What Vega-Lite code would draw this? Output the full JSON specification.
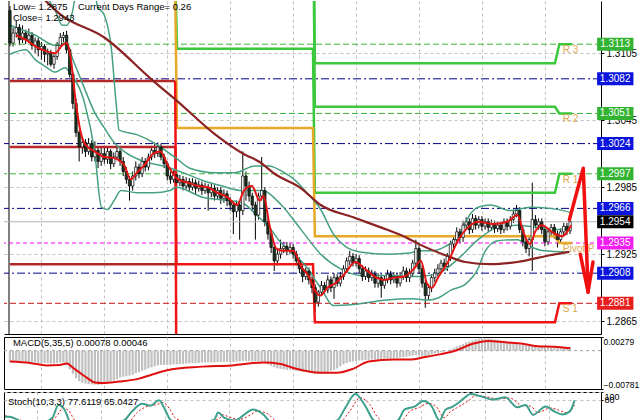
{
"$schema":"https://vega.github.io/schema/vega-lite/v6.json",
"padding":{"left":3,"top":0,"right":0,"bottom":0},
"background":"white",
"spacing":1,
"config":{"view":{"stroke":"#000","strokeWidth":1},"axis":{"labelFont":"Liberation Sans","labelFontSize":10,"labelColor":"#000","domainColor":"#000","tickColor":"#000","gridColor":"#c0c0c0","gridDash":[3,3]}},
"datasets":{
"one":[{"z":0}],
"cd":[
{"i":0,"o":1.3143,"h":1.3147,"l":1.3111,"c":1.3114,"m":-0.0024},
{"i":1,"o":1.3114,"h":1.3128,"l":1.3111,"c":1.3123,"m":-0.0024},
{"i":2,"o":1.3123,"h":1.3134,"l":1.3119,"c":1.3128,"m":-0.0023},
{"i":3,"o":1.3128,"h":1.3131,"l":1.3112,"c":1.3117,"m":-0.0023},
{"i":4,"o":1.3117,"h":1.3130,"l":1.3114,"c":1.3123,"m":-0.0023},
{"i":5,"o":1.3123,"h":1.3126,"l":1.3113,"c":1.3117,"m":-0.0024},
{"i":6,"o":1.3117,"h":1.3127,"l":1.3114,"c":1.3121,"m":-0.0024},
{"i":7,"o":1.3121,"h":1.3124,"l":1.3108,"c":1.3112,"m":-0.0024},
{"i":8,"o":1.3112,"h":1.3119,"l":1.3105,"c":1.3116,"m":-0.0024},
{"i":9,"o":1.3116,"h":1.3119,"l":1.3102,"c":1.3108,"m":-0.0025},
{"i":10,"o":1.3108,"h":1.3115,"l":1.3099,"c":1.3111,"m":-0.0025},
{"i":11,"o":1.3111,"h":1.3113,"l":1.3097,"c":1.3104,"m":-0.0025},
{"i":12,"o":1.3104,"h":1.3109,"l":1.3094,"c":1.3105,"m":-0.0025},
{"i":13,"o":1.3105,"h":1.3108,"l":1.3093,"c":1.3095,"m":-0.0026},
{"i":14,"o":1.3095,"h":1.3104,"l":1.3091,"c":1.3102,"m":-0.0026},
{"i":15,"o":1.3102,"h":1.3115,"l":1.3099,"c":1.3112,"m":-0.0025},
{"i":16,"o":1.3112,"h":1.3123,"l":1.3109,"c":1.3119,"m":-0.0024},
{"i":17,"o":1.3119,"h":1.3124,"l":1.3115,"c":1.3121,"m":-0.0024},
{"i":18,"o":1.3121,"h":1.3125,"l":1.3105,"c":1.3108,"m":-0.0030},
{"i":19,"o":1.3108,"h":1.3110,"l":1.3083,"c":1.3086,"m":-0.0038},
{"i":20,"o":1.3086,"h":1.3088,"l":1.3055,"c":1.3060,"m":-0.0047},
{"i":21,"o":1.3060,"h":1.3064,"l":1.3030,"c":1.3034,"m":-0.0056},
{"i":22,"o":1.3034,"h":1.3036,"l":1.3008,"c":1.3021,"m":-0.0062},
{"i":23,"o":1.3021,"h":1.3030,"l":1.3015,"c":1.3025,"m":-0.0065},
{"i":24,"o":1.3025,"h":1.3028,"l":1.3012,"c":1.3017,"m":-0.0067},
{"i":25,"o":1.3017,"h":1.3029,"l":1.3014,"c":1.3024,"m":-0.0068},
{"i":26,"o":1.3024,"h":1.3027,"l":1.3008,"c":1.3012,"m":-0.0069},
{"i":27,"o":1.3012,"h":1.3026,"l":1.3008,"c":1.3018,"m":-0.0069},
{"i":28,"o":1.3018,"h":1.3021,"l":1.3002,"c":1.3008,"m":-0.0070},
{"i":29,"o":1.3008,"h":1.3020,"l":1.3004,"c":1.3015,"m":-0.0069},
{"i":30,"o":1.3015,"h":1.3022,"l":1.3006,"c":1.3010,"m":-0.0068},
{"i":31,"o":1.3010,"h":1.3021,"l":1.3006,"c":1.3017,"m":-0.0066},
{"i":32,"o":1.3017,"h":1.3019,"l":1.3001,"c":1.3006,"m":-0.0064},
{"i":33,"o":1.3006,"h":1.3016,"l":1.3003,"c":1.3012,"m":-0.0061},
{"i":34,"o":1.3012,"h":1.3022,"l":1.3009,"c":1.3017,"m":-0.0058},
{"i":35,"o":1.3017,"h":1.3020,"l":1.3004,"c":1.3008,"m":-0.0055},
{"i":36,"o":1.3008,"h":1.3012,"l":1.2995,"c":1.2999,"m":-0.0053},
{"i":37,"o":1.2999,"h":1.3003,"l":1.2988,"c":1.2992,"m":-0.0052},
{"i":38,"o":1.2992,"h":1.2995,"l":1.2973,"c":1.2986,"m":-0.0051},
{"i":39,"o":1.2986,"h":1.2999,"l":1.2982,"c":1.2995,"m":-0.0049},
{"i":40,"o":1.2995,"h":1.3008,"l":1.2991,"c":1.3003,"m":-0.0046},
{"i":41,"o":1.3003,"h":1.3006,"l":1.2993,"c":1.2997,"m":-0.0044},
{"i":42,"o":1.2997,"h":1.3012,"l":1.2994,"c":1.3008,"m":-0.0041},
{"i":43,"o":1.3008,"h":1.3011,"l":1.2999,"c":1.3003,"m":-0.0039},
{"i":44,"o":1.3003,"h":1.3015,"l":1.3000,"c":1.3012,"m":-0.0036},
{"i":45,"o":1.3012,"h":1.3022,"l":1.3009,"c":1.3018,"m":-0.0034},
{"i":46,"o":1.3018,"h":1.3024,"l":1.3011,"c":1.3015,"m":-0.0032},
{"i":47,"o":1.3015,"h":1.3025,"l":1.3012,"c":1.3021,"m":-0.0030},
{"i":48,"o":1.3021,"h":1.3024,"l":1.3009,"c":1.3012,"m":-0.0029},
{"i":49,"o":1.3012,"h":1.3015,"l":1.3002,"c":1.3006,"m":-0.0029},
{"i":50,"o":1.3006,"h":1.3008,"l":1.2991,"c":1.2995,"m":-0.0029},
{"i":51,"o":1.2995,"h":1.2999,"l":1.2988,"c":1.2992,"m":-0.0029},
{"i":52,"o":1.2992,"h":1.3000,"l":1.2989,"c":1.2996,"m":-0.0028},
{"i":53,"o":1.2996,"h":1.2999,"l":1.2985,"c":1.2989,"m":-0.0028},
{"i":54,"o":1.2989,"h":1.2996,"l":1.2986,"c":1.2992,"m":-0.0027},
{"i":55,"o":1.2992,"h":1.2995,"l":1.2982,"c":1.2986,"m":-0.0027},
{"i":56,"o":1.2986,"h":1.2994,"l":1.2983,"c":1.2990,"m":-0.0026},
{"i":57,"o":1.2990,"h":1.2993,"l":1.2981,"c":1.2985,"m":-0.0026},
{"i":58,"o":1.2985,"h":1.2993,"l":1.2982,"c":1.2989,"m":-0.0025},
{"i":59,"o":1.2989,"h":1.2992,"l":1.2978,"c":1.2984,"m":-0.0025},
{"i":60,"o":1.2984,"h":1.2991,"l":1.2981,"c":1.2987,"m":-0.0025},
{"i":61,"o":1.2987,"h":1.2990,"l":1.2978,"c":1.2982,"m":-0.0024},
{"i":62,"o":1.2982,"h":1.2989,"l":1.2979,"c":1.2985,"m":-0.0024},
{"i":63,"o":1.2985,"h":1.2988,"l":1.2964,"c":1.2980,"m":-0.0024},
{"i":64,"o":1.2980,"h":1.2988,"l":1.2976,"c":1.2984,"m":-0.0024},
{"i":65,"o":1.2984,"h":1.2987,"l":1.2973,"c":1.2977,"m":-0.0024},
{"i":66,"o":1.2977,"h":1.2985,"l":1.2974,"c":1.2982,"m":-0.0023},
{"i":67,"o":1.2982,"h":1.2985,"l":1.2970,"c":1.2975,"m":-0.0023},
{"i":68,"o":1.2975,"h":1.2983,"l":1.2971,"c":1.2979,"m":-0.0023},
{"i":69,"o":1.2979,"h":1.2982,"l":1.2968,"c":1.2973,"m":-0.0023},
{"i":70,"o":1.2973,"h":1.2976,"l":1.2964,"c":1.2969,"m":-0.0023},
{"i":71,"o":1.2969,"h":1.2972,"l":1.2943,"c":1.2963,"m":-0.0023},
{"i":72,"o":1.2963,"h":1.2973,"l":1.2958,"c":1.2969,"m":-0.0022},
{"i":73,"o":1.2969,"h":1.2972,"l":1.2938,"c":1.2964,"m":-0.0022},
{"i":74,"o":1.2964,"h":1.3017,"l":1.2960,"c":1.2995,"m":-0.0021},
{"i":75,"o":1.2995,"h":1.2999,"l":1.2973,"c":1.2986,"m":-0.0021},
{"i":76,"o":1.2986,"h":1.2990,"l":1.2972,"c":1.2977,"m":-0.0021},
{"i":77,"o":1.2977,"h":1.2980,"l":1.2964,"c":1.2969,"m":-0.0022},
{"i":78,"o":1.2969,"h":1.2972,"l":1.2938,"c":1.2960,"m":-0.0022},
{"i":79,"o":1.2960,"h":1.2980,"l":1.2956,"c":1.2977,"m":-0.0022},
{"i":80,"o":1.2977,"h":1.3012,"l":1.2973,"c":1.2982,"m":-0.0023},
{"i":81,"o":1.2982,"h":1.2985,"l":1.2950,"c":1.2954,"m":-0.0025},
{"i":82,"o":1.2954,"h":1.2957,"l":1.2938,"c":1.2943,"m":-0.0028},
{"i":83,"o":1.2943,"h":1.2946,"l":1.2926,"c":1.2931,"m":-0.0031},
{"i":84,"o":1.2931,"h":1.2934,"l":1.2910,"c":1.2919,"m":-0.0034},
{"i":85,"o":1.2919,"h":1.2929,"l":1.2915,"c":1.2925,"m":-0.0036},
{"i":86,"o":1.2925,"h":1.2938,"l":1.2921,"c":1.2930,"m":-0.0037},
{"i":87,"o":1.2930,"h":1.2936,"l":1.2926,"c":1.2932,"m":-0.0038},
{"i":88,"o":1.2932,"h":1.2936,"l":1.2924,"c":1.2928,"m":-0.0039},
{"i":89,"o":1.2928,"h":1.2935,"l":1.2925,"c":1.2931,"m":-0.0039},
{"i":90,"o":1.2931,"h":1.2934,"l":1.2921,"c":1.2925,"m":-0.0040},
{"i":91,"o":1.2925,"h":1.2928,"l":1.2915,"c":1.2919,"m":-0.0041},
{"i":92,"o":1.2919,"h":1.2922,"l":1.2908,"c":1.2912,"m":-0.0042},
{"i":93,"o":1.2912,"h":1.2915,"l":1.2900,"c":1.2905,"m":-0.0043},
{"i":94,"o":1.2905,"h":1.2913,"l":1.2902,"c":1.2910,"m":-0.0043},
{"i":95,"o":1.2910,"h":1.2913,"l":1.2898,"c":1.2902,"m":-0.0044},
{"i":96,"o":1.2902,"h":1.2905,"l":1.2890,"c":1.2895,"m":-0.0045},
{"i":97,"o":1.2895,"h":1.2898,"l":1.2873,"c":1.2882,"m":-0.0047},
{"i":98,"o":1.2882,"h":1.2893,"l":1.2878,"c":1.2891,"m":-0.0047},
{"i":99,"o":1.2891,"h":1.2901,"l":1.2888,"c":1.2897,"m":-0.0046},
{"i":100,"o":1.2897,"h":1.2900,"l":1.2889,"c":1.2893,"m":-0.0045},
{"i":101,"o":1.2893,"h":1.2906,"l":1.2890,"c":1.2902,"m":-0.0043},
{"i":102,"o":1.2902,"h":1.2905,"l":1.2891,"c":1.2895,"m":-0.0041},
{"i":103,"o":1.2895,"h":1.2908,"l":1.2885,"c":1.2904,"m":-0.0039},
{"i":104,"o":1.2904,"h":1.2907,"l":1.2896,"c":1.2899,"m":-0.0036},
{"i":105,"o":1.2899,"h":1.2909,"l":1.2896,"c":1.2905,"m":-0.0032},
{"i":106,"o":1.2905,"h":1.2915,"l":1.2902,"c":1.2912,"m":-0.0028},
{"i":107,"o":1.2912,"h":1.2922,"l":1.2909,"c":1.2919,"m":-0.0025},
{"i":108,"o":1.2919,"h":1.2928,"l":1.2915,"c":1.2923,"m":-0.0023},
{"i":109,"o":1.2923,"h":1.2926,"l":1.2914,"c":1.2917,"m":-0.0022},
{"i":110,"o":1.2917,"h":1.2925,"l":1.2914,"c":1.2921,"m":-0.0021},
{"i":111,"o":1.2921,"h":1.2924,"l":1.2908,"c":1.2912,"m":-0.0020},
{"i":112,"o":1.2912,"h":1.2915,"l":1.2901,"c":1.2905,"m":-0.0020},
{"i":113,"o":1.2905,"h":1.2914,"l":1.2902,"c":1.2910,"m":-0.0019},
{"i":114,"o":1.2910,"h":1.2913,"l":1.2900,"c":1.2904,"m":-0.0019},
{"i":115,"o":1.2904,"h":1.2911,"l":1.2901,"c":1.2907,"m":-0.0018},
{"i":116,"o":1.2907,"h":1.2910,"l":1.2895,"c":1.2899,"m":-0.0018},
{"i":117,"o":1.2899,"h":1.2908,"l":1.2895,"c":1.2904,"m":-0.0017},
{"i":118,"o":1.2904,"h":1.2907,"l":1.2886,"c":1.2897,"m":-0.0017},
{"i":119,"o":1.2897,"h":1.2906,"l":1.2894,"c":1.2902,"m":-0.0016},
{"i":120,"o":1.2902,"h":1.2911,"l":1.2899,"c":1.2907,"m":-0.0016},
{"i":121,"o":1.2907,"h":1.2910,"l":1.2898,"c":1.2902,"m":-0.0016},
{"i":122,"o":1.2902,"h":1.2909,"l":1.2899,"c":1.2905,"m":-0.0015},
{"i":123,"o":1.2905,"h":1.2908,"l":1.2895,"c":1.2899,"m":-0.0015},
{"i":124,"o":1.2899,"h":1.2909,"l":1.2896,"c":1.2905,"m":-0.0014},
{"i":125,"o":1.2905,"h":1.2914,"l":1.2902,"c":1.2910,"m":-0.0013},
{"i":126,"o":1.2910,"h":1.2913,"l":1.2900,"c":1.2904,"m":-0.0012},
{"i":127,"o":1.2904,"h":1.2912,"l":1.2900,"c":1.2908,"m":-0.0011},
{"i":128,"o":1.2908,"h":1.2920,"l":1.2905,"c":1.2917,"m":-0.0010},
{"i":129,"o":1.2917,"h":1.2938,"l":1.2913,"c":1.2930,"m":-0.0009},
{"i":130,"o":1.2930,"h":1.2933,"l":1.2908,"c":1.2912,"m":-0.0010},
{"i":131,"o":1.2912,"h":1.2915,"l":1.2895,"c":1.2899,"m":-0.0011},
{"i":132,"o":1.2899,"h":1.2902,"l":1.2877,"c":1.2888,"m":-0.0011},
{"i":133,"o":1.2888,"h":1.2898,"l":1.2884,"c":1.2895,"m":-0.0010},
{"i":134,"o":1.2895,"h":1.2907,"l":1.2891,"c":1.2904,"m":-0.0008},
{"i":135,"o":1.2904,"h":1.2912,"l":1.2900,"c":1.2908,"m":-0.0006},
{"i":136,"o":1.2908,"h":1.2916,"l":1.2905,"c":1.2912,"m":-0.0005},
{"i":137,"o":1.2912,"h":1.2920,"l":1.2908,"c":1.2917,"m":-0.0003},
{"i":138,"o":1.2917,"h":1.2921,"l":1.2910,"c":1.2914,"m":-0.0002},
{"i":139,"o":1.2914,"h":1.2926,"l":1.2910,"c":1.2923,"m":0.0000},
{"i":140,"o":1.2923,"h":1.2937,"l":1.2919,"c":1.2934,"m":0.0003},
{"i":141,"o":1.2934,"h":1.2942,"l":1.2930,"c":1.2938,"m":0.0006},
{"i":142,"o":1.2938,"h":1.2949,"l":1.2934,"c":1.2945,"m":0.0009},
{"i":143,"o":1.2945,"h":1.2948,"l":1.2935,"c":1.2940,"m":0.0011},
{"i":144,"o":1.2940,"h":1.2955,"l":1.2936,"c":1.2951,"m":0.0014},
{"i":145,"o":1.2951,"h":1.2958,"l":1.2947,"c":1.2954,"m":0.0017},
{"i":146,"o":1.2954,"h":1.2957,"l":1.2943,"c":1.2947,"m":0.0019},
{"i":147,"o":1.2947,"h":1.2961,"l":1.2944,"c":1.2957,"m":0.0021},
{"i":148,"o":1.2957,"h":1.2960,"l":1.2947,"c":1.2951,"m":0.0023},
{"i":149,"o":1.2951,"h":1.2959,"l":1.2948,"c":1.2956,"m":0.0024},
{"i":150,"o":1.2956,"h":1.2959,"l":1.2946,"c":1.2950,"m":0.0025},
{"i":151,"o":1.2950,"h":1.2957,"l":1.2947,"c":1.2954,"m":0.0025},
{"i":152,"o":1.2954,"h":1.2957,"l":1.2945,"c":1.2949,"m":0.0025},
{"i":153,"o":1.2949,"h":1.2956,"l":1.2946,"c":1.2952,"m":0.0024},
{"i":154,"o":1.2952,"h":1.2955,"l":1.2944,"c":1.2948,"m":0.0023},
{"i":155,"o":1.2948,"h":1.2954,"l":1.2945,"c":1.2951,"m":0.0022},
{"i":156,"o":1.2951,"h":1.2954,"l":1.2943,"c":1.2947,"m":0.0021},
{"i":157,"o":1.2947,"h":1.2957,"l":1.2944,"c":1.2954,"m":0.0019},
{"i":158,"o":1.2954,"h":1.2957,"l":1.2946,"c":1.2950,"m":0.0018},
{"i":159,"o":1.2950,"h":1.2959,"l":1.2947,"c":1.2956,"m":0.0017},
{"i":160,"o":1.2956,"h":1.2965,"l":1.2953,"c":1.2961,"m":0.0016},
{"i":161,"o":1.2961,"h":1.2969,"l":1.2958,"c":1.2964,"m":0.0015},
{"i":162,"o":1.2964,"h":1.2967,"l":1.2944,"c":1.2947,"m":0.0013},
{"i":163,"o":1.2947,"h":1.2950,"l":1.2932,"c":1.2936,"m":0.0012},
{"i":164,"o":1.2936,"h":1.2939,"l":1.2926,"c":1.2930,"m":0.0011},
{"i":165,"o":1.2930,"h":1.2942,"l":1.2923,"c":1.2938,"m":0.0010},
{"i":166,"o":1.2938,"h":1.2989,"l":1.2910,"c":1.2956,"m":0.0010},
{"i":167,"o":1.2956,"h":1.2960,"l":1.2948,"c":1.2951,"m":0.0009},
{"i":168,"o":1.2951,"h":1.2957,"l":1.2947,"c":1.2954,"m":0.0008},
{"i":169,"o":1.2954,"h":1.2957,"l":1.2943,"c":1.2947,"m":0.0008},
{"i":170,"o":1.2947,"h":1.2950,"l":1.2932,"c":1.2936,"m":0.0007},
{"i":171,"o":1.2936,"h":1.2948,"l":1.2933,"c":1.2945,"m":0.0007},
{"i":172,"o":1.2945,"h":1.2952,"l":1.2942,"c":1.2949,"m":0.0007},
{"i":173,"o":1.2949,"h":1.2952,"l":1.2939,"c":1.2943,"m":0.0007},
{"i":174,"o":1.2943,"h":1.2946,"l":1.2931,"c":1.2938,"m":0.0006},
{"i":175,"o":1.2938,"h":1.2948,"l":1.2935,"c":1.2945,"m":0.0006},
{"i":176,"o":1.2945,"h":1.2953,"l":1.2941,"c":1.2950,"m":0.0007},
{"i":177,"o":1.2950,"h":1.2953,"l":1.2942,"c":1.2946,"m":0.0007},
{"i":178,"o":1.2946,"h":1.2959,"l":1.2943,"c":1.2954,"m":0.0008}
],
"ln":[
{"s":"U","i":0,"p":1.3173},{"s":"U","i":11.25,"p":1.3156},{"s":"U","i":14.4,"p":1.3143},{"s":"U","i":16.6,"p":1.3130},{"s":"U","i":18.1,"p":1.3130},{"s":"U","i":19.7,"p":1.3140},{"s":"U","i":21.25,"p":1.3160},{"s":"U","i":26.9,"p":1.3160},{"s":"U","i":27.8,"p":1.3147},{"s":"U","i":30,"p":1.3139},{"s":"U","i":32.2,"p":1.3110},{"s":"U","i":33.75,"p":1.3060},{"s":"U","i":34.7,"p":1.3036},{"s":"U","i":40.3,"p":1.3032},{"s":"U","i":45.6,"p":1.3025},{"s":"U","i":52.8,"p":1.3011},{"s":"U","i":57.2,"p":1.3002},{"s":"U","i":65.3,"p":1.2998},{"s":"U","i":71.6,"p":1.2998},{"s":"U","i":77.8,"p":1.3004},{"s":"U","i":82.2,"p":1.3004},{"s":"U","i":87.2,"p":1.2998},{"s":"U","i":90.3,"p":1.2992},{"s":"U","i":94.7,"p":1.2979},{"s":"U","i":98.75,"p":1.2965},{"s":"U","i":102.8,"p":1.2943},{"s":"U","i":106.6,"p":1.2932},{"s":"U","i":111.25,"p":1.2927},{"s":"U","i":120.6,"p":1.2925},{"s":"U","i":126.9,"p":1.2926},{"s":"U","i":130,"p":1.2928},{"s":"U","i":134,"p":1.2928},{"s":"U","i":138.4,"p":1.2932},{"s":"U","i":142.5,"p":1.2941},{"s":"U","i":146.6,"p":1.2962},{"s":"U","i":148.75,"p":1.2967},{"s":"U","i":152.8,"p":1.2969},{"s":"U","i":159,"p":1.2964},{"s":"U","i":165.3,"p":1.2967},{"s":"U","i":171.6,"p":1.2966},{"s":"U","i":175.9,"p":1.2964},{"s":"U","i":178.4,"p":1.2962},
{"s":"M","i":0,"p":1.3130},{"s":"M","i":8.1,"p":1.3121},{"s":"M","i":14.4,"p":1.3112},{"s":"M","i":17.5,"p":1.3114},{"s":"M","i":20.6,"p":1.3095},{"s":"M","i":23.75,"p":1.3073},{"s":"M","i":26.9,"p":1.3052},{"s":"M","i":30,"p":1.3038},{"s":"M","i":33.1,"p":1.3025},{"s":"M","i":36.25,"p":1.3017},{"s":"M","i":42.5,"p":1.3008},{"s":"M","i":48.75,"p":1.3004},{"s":"M","i":55,"p":1.2998},{"s":"M","i":61.25,"p":1.2991},{"s":"M","i":67.5,"p":1.2986},{"s":"M","i":73.75,"p":1.2982},{"s":"M","i":80,"p":1.2982},{"s":"M","i":86.25,"p":1.2969},{"s":"M","i":92.5,"p":1.2947},{"s":"M","i":98.75,"p":1.2925},{"s":"M","i":105,"p":1.2912},{"s":"M","i":111.25,"p":1.2906},{"s":"M","i":120.6,"p":1.2906},{"s":"M","i":130,"p":1.2905},{"s":"M","i":136.25,"p":1.2908},{"s":"M","i":142.5,"p":1.2921},{"s":"M","i":148.75,"p":1.2938},{"s":"M","i":155,"p":1.2949},{"s":"M","i":161.25,"p":1.2951},{"s":"M","i":167.5,"p":1.2949},{"s":"M","i":173.75,"p":1.2947},{"s":"M","i":178.4,"p":1.2947},
{"s":"L","i":0,"p":1.3104},{"s":"L","i":5,"p":1.3108},{"s":"L","i":8.1,"p":1.3099},{"s":"L","i":11.25,"p":1.3093},{"s":"L","i":14.4,"p":1.3088},{"s":"L","i":17.5,"p":1.3092},{"s":"L","i":19.4,"p":1.3086},{"s":"L","i":23.75,"p":1.3060},{"s":"L","i":26.9,"p":1.3017},{"s":"L","i":29.1,"p":1.2967},{"s":"L","i":30.9,"p":1.2965},{"s":"L","i":33.1,"p":1.2973},{"s":"L","i":35.3,"p":1.2982},{"s":"L","i":40.3,"p":1.2980},{"s":"L","i":45.6,"p":1.2980},{"s":"L","i":50.9,"p":1.2982},{"s":"L","i":52.8,"p":1.2985},{"s":"L","i":61.25,"p":1.2976},{"s":"L","i":69.7,"p":1.2973},{"s":"L","i":73.75,"p":1.2971},{"s":"L","i":79.1,"p":1.2958},{"s":"L","i":82.2,"p":1.2950},{"s":"L","i":85.3,"p":1.2938},{"s":"L","i":89.4,"p":1.2927},{"s":"L","i":94.7,"p":1.2912},{"s":"L","i":97.2,"p":1.2901},{"s":"L","i":98.75,"p":1.2895},{"s":"L","i":102.8,"p":1.2879},{"s":"L","i":109.1,"p":1.2880},{"s":"L","i":119.7,"p":1.2884},{"s":"L","i":127.8,"p":1.2885},{"s":"L","i":133.1,"p":1.2884},{"s":"L","i":136.25,"p":1.2886},{"s":"L","i":140.3,"p":1.2893},{"s":"L","i":144.7,"p":1.2898},{"s":"L","i":148.75,"p":1.2912},{"s":"L","i":150.9,"p":1.2927},{"s":"L","i":155,"p":1.2937},{"s":"L","i":161.25,"p":1.2938},{"s":"L","i":165.3,"p":1.2932},{"s":"L","i":169.7,"p":1.2928},{"s":"L","i":177.8,"p":1.2927},
{"s":"F","i":1.9,"p":1.3121},{"s":"F","i":5,"p":1.3117},{"s":"F","i":8.1,"p":1.3111},{"s":"F","i":11.25,"p":1.3107},{"s":"F","i":14.4,"p":1.3105},{"s":"F","i":16.6,"p":1.3112},{"s":"F","i":18.1,"p":1.3114},{"s":"F","i":19.4,"p":1.3099},{"s":"F","i":20.6,"p":1.3069},{"s":"F","i":22.2,"p":1.3038},{"s":"F","i":23.75,"p":1.3024},{"s":"F","i":26.9,"p":1.3017},{"s":"F","i":30,"p":1.3012},{"s":"F","i":33.1,"p":1.3011},{"s":"F","i":36.25,"p":1.3005},{"s":"F","i":38.4,"p":1.2992},{"s":"F","i":40.3,"p":1.2998},{"s":"F","i":42.5,"p":1.3004},{"s":"F","i":45.6,"p":1.3015},{"s":"F","i":47.8,"p":1.3017},{"s":"F","i":50.3,"p":1.3004},{"s":"F","i":53.4,"p":1.2992},{"s":"F","i":56.6,"p":1.2989},{"s":"F","i":59.7,"p":1.2986},{"s":"F","i":62.8,"p":1.2985},{"s":"F","i":65.9,"p":1.2980},{"s":"F","i":69.1,"p":1.2976},{"s":"F","i":72.2,"p":1.2969},{"s":"F","i":74.4,"p":1.2982},{"s":"F","i":76.9,"p":1.2986},{"s":"F","i":79.4,"p":1.2973},{"s":"F","i":80.6,"p":1.2977},{"s":"F","i":82.5,"p":1.2951},{"s":"F","i":84.7,"p":1.2930},{"s":"F","i":86.9,"p":1.2928},{"s":"F","i":90,"p":1.2928},{"s":"F","i":92.5,"p":1.2914},{"s":"F","i":95,"p":1.2905},{"s":"F","i":97.2,"p":1.2891},{"s":"F","i":98.75,"p":1.2888},{"s":"F","i":100.9,"p":1.2895},{"s":"F","i":103.4,"p":1.2899},{"s":"F","i":106.6,"p":1.2908},{"s":"F","i":109.7,"p":1.2918},{"s":"F","i":112.8,"p":1.2912},{"s":"F","i":115.9,"p":1.2905},{"s":"F","i":119.1,"p":1.2902},{"s":"F","i":122.2,"p":1.2904},{"s":"F","i":125.3,"p":1.2905},{"s":"F","i":128.4,"p":1.2912},{"s":"F","i":130.6,"p":1.2919},{"s":"F","i":132.5,"p":1.2899},{"s":"F","i":134.1,"p":1.2895},{"s":"F","i":136.25,"p":1.2905},{"s":"F","i":139.4,"p":1.2919},{"s":"F","i":142.5,"p":1.2938},{"s":"F","i":145.6,"p":1.2949},{"s":"F","i":148.75,"p":1.2954},{"s":"F","i":153.4,"p":1.2952},{"s":"F","i":158.1,"p":1.2954},{"s":"F","i":161.25,"p":1.2960},{"s":"F","i":163.4,"p":1.2943},{"s":"F","i":165.3,"p":1.2934},{"s":"F","i":166.9,"p":1.2945},{"s":"F","i":169.1,"p":1.2951},{"s":"F","i":172.2,"p":1.2945},{"s":"F","i":175.3,"p":1.2941},{"s":"F","i":178.4,"p":1.2951},
{"s":"B","i":11.25,"p":1.3152},{"s":"B","i":15.9,"p":1.3140},{"s":"B","i":30,"p":1.3119},{"s":"B","i":45.6,"p":1.3080},{"s":"B","i":52.8,"p":1.3063},{"s":"B","i":65.3,"p":1.3032},{"s":"B","i":74.7,"p":1.3014},{"s":"B","i":79.1,"p":1.3008},{"s":"B","i":84.1,"p":1.2997},{"s":"B","i":92.5,"p":1.2984},{"s":"B","i":98.75,"p":1.2969},{"s":"B","i":109.1,"p":1.2958},{"s":"B","i":119.7,"p":1.2947},{"s":"B","i":125.9,"p":1.2940},{"s":"B","i":130,"p":1.2934},{"s":"B","i":138.4,"p":1.2924},{"s":"B","i":144.7,"p":1.2918},{"s":"B","i":152.8,"p":1.2916},{"s":"B","i":161.25,"p":1.2918},{"s":"B","i":171.6,"p":1.2924},{"s":"B","i":177.8,"p":1.2927},
{"s":"R1","i":52.3,"p":1.3200},{"s":"R1","i":53.1,"p":1.3109},{"s":"R1","i":96.3,"p":1.3109},{"s":"R1","i":96.9,"p":1.2980},{"s":"R1","i":173.2,"p":1.2980},{"s":"R1","i":174.6,"p":1.2997},{"s":"R1","i":178.6,"p":1.2997},
{"s":"R2","i":96.3,"p":1.3250},{"s":"R2","i":96.9,"p":1.3057},{"s":"R2","i":173.2,"p":1.3057},{"s":"R2","i":174.6,"p":1.3051},{"s":"R2","i":178.6,"p":1.3051},
{"s":"R3","i":96.3,"p":1.3300},{"s":"R3","i":96.9,"p":1.3096},{"s":"R3","i":173.2,"p":1.3096},{"s":"R3","i":174.6,"p":1.3113},{"s":"R3","i":178.6,"p":1.3113},
{"s":"P","i":52.3,"p":1.3200},{"s":"P","i":53.1,"p":1.3038},{"s":"P","i":96.3,"p":1.3038},{"s":"P","i":96.9,"p":1.2941},{"s":"P","i":173.2,"p":1.2941},{"s":"P","i":174.6,"p":1.2935},{"s":"P","i":178.6,"p":1.2935},
{"s":"S1","i":52.5,"p":1.3080},{"s":"S1","i":52.9,"p":1.2916},{"s":"S1","i":96.3,"p":1.2916},{"s":"S1","i":96.9,"p":1.2864},{"s":"S1","i":173.2,"p":1.2864},{"s":"S1","i":174.6,"p":1.2881},{"s":"S1","i":178.6,"p":1.2881},
{"s":"S2","i":52.6,"p":1.3021},{"s":"S2","i":52.9,"p":1.2800},
{"s":"D1","i":0,"p":1.3080},{"s":"D1","i":52.5,"p":1.3080},
{"s":"D2","i":0,"p":1.3021},{"s":"D2","i":52.6,"p":1.3021},
{"s":"D3","i":0,"p":1.2916},{"s":"D3","i":52.9,"p":1.2916},
{"s":"A1","i":177.8,"p":1.2956},{"s":"A1","i":182.2,"p":1.3002},{"s":"A1","i":183.75,"p":1.2892},
{"s":"A2","i":181.25,"p":1.2925},{"s":"A2","i":183.75,"p":1.2891},
{"s":"A3","i":183.7,"p":1.2891},{"s":"A3","i":185.3,"p":1.2918}
],
"lv":[{"k":"g","p":1.3113},{"k":"b","p":1.3082},{"k":"g","p":1.3051},{"k":"b","p":1.3024},{"k":"g","p":1.2997},{"k":"b","p":1.2966},{"k":"k","p":1.2954},{"k":"m","p":1.2935},{"k":"b","p":1.2908},{"k":"r","p":1.2881}],
"lb":[{"t":"R 3","p":1.3113},{"t":"R 2","p":1.3051},{"t":"R 1","p":1.2997},{"t":"Pivot P","p":1.2935},{"t":"S 1","p":1.2881}],
"sg":[{"i":0,"v":-0.0022},{"i":6.4,"v":-0.0025},{"i":11.6,"v":-0.0030},{"i":15.8,"v":-0.0029},{"i":18,"v":-0.0026},{"i":20.5,"v":-0.0037},{"i":24.4,"v":-0.0055},{"i":27,"v":-0.0065},{"i":29.4,"v":-0.0066},{"i":34.6,"v":-0.0063},{"i":41,"v":-0.0057},{"i":45,"v":-0.0049},{"i":50,"v":-0.0040},{"i":60,"v":-0.0033},{"i":70.5,"v":-0.0030},{"i":80.7,"v":-0.0024},{"i":86,"v":-0.0027},{"i":91,"v":-0.0037},{"i":98.6,"v":-0.0045},{"i":104,"v":-0.0045},{"i":109,"v":-0.0037},{"i":114,"v":-0.0022},{"i":122,"v":-0.0018},{"i":127,"v":-0.0018},{"i":132,"v":-0.0013},{"i":137,"v":-0.0007},{"i":142,"v":0.0001},{"i":147,"v":0.0014},{"i":152,"v":0.0020},{"i":157.5,"v":0.0017},{"i":163,"v":0.0014},{"i":168,"v":0.0009},{"i":173,"v":0.0008},{"i":178,"v":0.0005}],
"st":[
{"s":"K","i":0,"v":35},{"s":"K","i":1.3,"v":35},{"s":"K","i":6.4,"v":20},{"s":"K","i":11.6,"v":20},{"s":"K","i":14.8,"v":32},{"s":"K","i":16.7,"v":66},{"s":"K","i":18.6,"v":54},{"s":"K","i":20.5,"v":20},{"s":"K","i":30,"v":10},{"s":"K","i":37.2,"v":25},{"s":"K","i":39.7,"v":49},{"s":"K","i":42.9,"v":69},{"s":"K","i":45.5,"v":64},{"s":"K","i":48.1,"v":78},{"s":"K","i":50,"v":54},{"s":"K","i":51.9,"v":25},{"s":"K","i":58,"v":15},{"s":"K","i":65.4,"v":27},{"s":"K","i":66.6,"v":46},{"s":"K","i":68.6,"v":32},{"s":"K","i":72,"v":25},{"s":"K","i":75.6,"v":46},{"s":"K","i":77.5,"v":54},{"s":"K","i":80.7,"v":41},{"s":"K","i":83.3,"v":20},{"s":"K","i":95,"v":10},{"s":"K","i":103.8,"v":25},{"s":"K","i":106.3,"v":58},{"s":"K","i":109.5,"v":95},{"s":"K","i":112.7,"v":62},{"s":"K","i":115.3,"v":25},{"s":"K","i":120,"v":15},{"s":"K","i":123,"v":27},{"s":"K","i":124.9,"v":54},{"s":"K","i":128.1,"v":62},{"s":"K","i":130.7,"v":76},{"s":"K","i":133.2,"v":64},{"s":"K","i":135.8,"v":25},{"s":"K","i":137.7,"v":54},{"s":"K","i":139.6,"v":60},{"s":"K","i":143.5,"v":84},{"s":"K","i":145.4,"v":95},{"s":"K","i":148.6,"v":89},{"s":"K","i":152.4,"v":80},{"s":"K","i":156.3,"v":86},{"s":"K","i":160.1,"v":60},{"s":"K","i":162.7,"v":66},{"s":"K","i":165,"v":40},{"s":"K","i":169,"v":62},{"s":"K","i":171.6,"v":49},{"s":"K","i":174.2,"v":41},{"s":"K","i":176.5,"v":49},{"s":"K","i":178,"v":78},
{"s":"D","i":0,"v":38},{"s":"D","i":3,"v":30},{"s":"D","i":8,"v":22},{"s":"D","i":13,"v":22},{"s":"D","i":16,"v":35},{"s":"D","i":18.2,"v":58},{"s":"D","i":20,"v":50},{"s":"D","i":22,"v":25},{"s":"D","i":31,"v":12},{"s":"D","i":39,"v":24},{"s":"D","i":41.2,"v":45},{"s":"D","i":44.4,"v":62},{"s":"D","i":47,"v":66},{"s":"D","i":49.6,"v":72},{"s":"D","i":51.5,"v":55},{"s":"D","i":53.4,"v":30},{"s":"D","i":60,"v":16},{"s":"D","i":67,"v":30},{"s":"D","i":68.1,"v":40},{"s":"D","i":70.1,"v":34},{"s":"D","i":73.5,"v":28},{"s":"D","i":77.1,"v":42},{"s":"D","i":79,"v":50},{"s":"D","i":82.2,"v":42},{"s":"D","i":84.8,"v":24},{"s":"D","i":96,"v":12},{"s":"D","i":105,"v":24},{"s":"D","i":107.8,"v":50},{"s":"D","i":111,"v":85},{"s":"D","i":114.2,"v":65},{"s":"D","i":116.8,"v":30},{"s":"D","i":121,"v":16},{"s":"D","i":124.5,"v":28},{"s":"D","i":126.4,"v":48},{"s":"D","i":129.6,"v":60},{"s":"D","i":132.2,"v":70},{"s":"D","i":134.7,"v":62},{"s":"D","i":137.3,"v":32},{"s":"D","i":139.2,"v":48},{"s":"D","i":141.1,"v":58},{"s":"D","i":145,"v":78},{"s":"D","i":146.9,"v":90},{"s":"D","i":150.1,"v":88},{"s":"D","i":153.9,"v":82},{"s":"D","i":157.8,"v":84},{"s":"D","i":161.6,"v":64},{"s":"D","i":164.2,"v":63},{"s":"D","i":166.5,"v":46},{"s":"D","i":170.5,"v":58},{"s":"D","i":173.1,"v":52},{"s":"D","i":175.7,"v":45},{"s":"D","i":178,"v":65}
]
},
"vconcat":[
{
"width":597,"height":333,
"view":{"stroke":null},
"layer":[
{"data":{"name":"cd"},"mark":{"type":"rule","color":"#000","strokeWidth":1},
 "encoding":{"x":{"field":"i","type":"quantitative","scale":{"domain":[-0.3,186.25],"nice":false,"zero":false},"axis":{"values":[10,20,30,40,50,60,70,80,90,100,110,120,130,140,150,160,170,180],"grid":true,"labels":false,"ticks":false,"domain":true,"title":null}},
  "y":{"field":"l","type":"quantitative","scale":{"domain":[1.2858,1.31472],"nice":false,"zero":false},"axis":{"orient":"right","values":[1.3135,1.3105,1.3075,1.3045,1.3015,1.2985,1.2955,1.2925,1.2895,1.2865],"format":".4f","grid":true,"tickSize":3,"labelPadding":2,"domain":true,"title":null,"labelOverlap":false}},
  "y2":{"field":"h"}}},
{"data":{"name":"one"},"mark":{"type":"rule","color":"#000","strokeWidth":1},"encoding":{"x":{"datum":-0.3}}},
{"data":{"name":"lv"},"transform":[{"filter":{"field":"k","equal":"g"}}],"mark":{"type":"rule","strokeWidth":1,"color":"#3cb43c","strokeDash":[6,3]},
 "encoding":{"y":{"field":"p","type":"quantitative"}}},
{"data":{"name":"lv"},"transform":[{"filter":{"field":"k","equal":"b"}}],"mark":{"type":"rule","strokeWidth":1,"color":"#000080","strokeDash":[8,3,2,3]},
 "encoding":{"y":{"field":"p","type":"quantitative"}}},
{"data":{"name":"lv"},"transform":[{"filter":{"field":"k","equal":"m"}}],"mark":{"type":"rule","strokeWidth":1,"color":"#ff00ff","strokeDash":[4,3]},
 "encoding":{"y":{"field":"p","type":"quantitative"}}},
{"data":{"name":"lv"},"transform":[{"filter":{"field":"k","equal":"r"}}],"mark":{"type":"rule","strokeWidth":1,"color":"#c81414","strokeDash":[6,3]},
 "encoding":{"y":{"field":"p","type":"quantitative"}}},
{"data":{"name":"lv"},"transform":[{"filter":{"field":"k","equal":"k"}}],"mark":{"type":"rule","strokeWidth":1,"color":"#b4b4b4"},
 "encoding":{"y":{"field":"p","type":"quantitative"}}},
{"data":{"name":"ln"},"transform":[{"filter":{"field":"s","oneOf":["R1","R2","R3"]}}],"mark":{"type":"line","color":"#3cc83c","strokeWidth":2.5,"clip":true},
 "encoding":{"x":{"field":"i","type":"quantitative"},"y":{"field":"p","type":"quantitative"},"detail":{"field":"s","type":"nominal"}}},
{"data":{"name":"ln"},"transform":[{"filter":{"field":"s","oneOf":["P"]}}],"mark":{"type":"line","color":"#e6aa28","strokeWidth":2.5,"clip":true},
 "encoding":{"x":{"field":"i","type":"quantitative"},"y":{"field":"p","type":"quantitative"}}},
{"data":{"name":"ln"},"transform":[{"filter":{"field":"s","oneOf":["D1","D2","D3"]}}],"mark":{"type":"line","color":"#b42828","strokeWidth":2.5,"clip":true},
 "encoding":{"x":{"field":"i","type":"quantitative"},"y":{"field":"p","type":"quantitative"},"detail":{"field":"s","type":"nominal"}}},
{"data":{"name":"ln"},"transform":[{"filter":{"field":"s","oneOf":["S1","S2"]}}],"mark":{"type":"line","color":"#f01414","strokeWidth":2.5,"clip":true},
 "encoding":{"x":{"field":"i","type":"quantitative"},"y":{"field":"p","type":"quantitative"},"detail":{"field":"s","type":"nominal"}}},
{"data":{"name":"ln"},"transform":[{"filter":{"field":"s","oneOf":["U","M","L"]}}],"mark":{"type":"line","color":"#46a082","strokeWidth":1.5,"interpolate":"monotone","clip":true},
 "encoding":{"x":{"field":"i","type":"quantitative"},"y":{"field":"p","type":"quantitative"},"detail":{"field":"s","type":"nominal"}}},
{"data":{"name":"ln"},"transform":[{"filter":{"field":"s","oneOf":["B"]}}],"mark":{"type":"line","color":"#8c2323","strokeWidth":2.2,"interpolate":"monotone","clip":true},
 "encoding":{"x":{"field":"i","type":"quantitative"},"y":{"field":"p","type":"quantitative"}}},
{"data":{"name":"one"},"mark":{"type":"text","fontSize":9.5,"font":"Liberation Sans","align":"left","baseline":"alphabetic","color":"#000","clip":true},
 "encoding":{"x":{"datum":0.95},"y":{"datum":1.31437},"text":{"value":"Low= 1.2875"}}},
{"data":{"name":"one"},"mark":{"type":"text","fontSize":9.5,"font":"Liberation Sans","align":"left","baseline":"alphabetic","color":"#000","clip":true},
 "encoding":{"x":{"datum":21.6},"y":{"datum":1.31437},"text":{"value":"Current Days Range= 0.26"}}},
{"data":{"name":"one"},"mark":{"type":"text","fontSize":9.5,"font":"Liberation Sans","align":"left","baseline":"alphabetic","color":"#000","clip":true},
 "encoding":{"x":{"datum":0.95},"y":{"datum":1.31335},"text":{"value":"Close= 1.2943"}}},
{"data":{"name":"cd"},"transform":[{"filter":"datum.c >= datum.o"}],"mark":{"type":"bar","size":2.4,"fill":"#ffffff","stroke":"#000","strokeWidth":0.7,"opacity":1},
 "encoding":{"x":{"field":"i","type":"quantitative"},"y":{"field":"o","type":"quantitative"},"y2":{"field":"c"}}},
{"data":{"name":"cd"},"transform":[{"filter":"datum.c < datum.o"}],"mark":{"type":"bar","size":2.4,"fill":"#1c361f","stroke":"#000","strokeWidth":0.7,"opacity":1},
 "encoding":{"x":{"field":"i","type":"quantitative"},"y":{"field":"o","type":"quantitative"},"y2":{"field":"c"}}},
{"data":{"name":"ln"},"transform":[{"filter":{"field":"s","oneOf":["F"]}}],"mark":{"type":"line","color":"#e61414","strokeWidth":2,"interpolate":"monotone","clip":true},
 "encoding":{"x":{"field":"i","type":"quantitative"},"y":{"field":"p","type":"quantitative"}}},
{"data":{"name":"ln"},"transform":[{"filter":{"field":"s","oneOf":["A1","A2","A3"]}}],"mark":{"type":"line","color":"#f01010","strokeWidth":3.5,"strokeCap":"round","strokeJoin":"round"},
 "encoding":{"x":{"field":"i","type":"quantitative"},"y":{"field":"p","type":"quantitative"},"detail":{"field":"s","type":"nominal"}}},
{"data":{"name":"lb"},"mark":{"type":"text","fontSize":10,"font":"Liberation Sans","align":"left","baseline":"top","dy":1,"color":"#dca850"},
 "encoding":{"x":{"datum":175.7},"y":{"field":"p","type":"quantitative"},"text":{"field":"t","type":"nominal"}}},
{"data":{"name":"lv"},"mark":{"type":"bar","size":13,"opacity":1},
 "encoding":{"x":{"datum":186.6},"x2":{"datum":198.15},"y":{"field":"p","type":"quantitative"},
  "color":{"field":"k","type":"nominal","scale":{"domain":["g","b","m","r","k"],"range":["#32b432","#0a14dc","#f01ef0","#e61e1e","#000000"]},"legend":null}}},
{"data":{"name":"lv"},"mark":{"type":"text","fontSize":10,"font":"Liberation Sans","align":"center","baseline":"middle","color":"#ffffff"},
 "encoding":{"x":{"datum":192.34},"y":{"field":"p","type":"quantitative"},"text":{"field":"p","type":"quantitative","format":".4f"}}}
]
},
{
"width":597,"height":52,
"layer":[
{"data":{"name":"cd"},"mark":{"type":"bar","size":2.2,"color":"#c0c0c0","opacity":1},
 "encoding":{"x":{"field":"i","type":"quantitative","scale":{"domain":[-0.3,186.25],"nice":false,"zero":false},"axis":{"values":[10,20,30,40,50,60,70,80,90,100,110,120,130,140,150,160,170,180],"grid":true,"labels":false,"ticks":false,"domain":false,"title":null}},
  "y":{"field":"m","type":"quantitative","scale":{"domain":[-0.00781,0.00279],"nice":false,"zero":false},"axis":{"orient":"right","values":[0.00279,0,-0.00781],"labelExpr":"datum.value == 0 ? '0.00' : format(datum.value, '.5f')","labelFontSize":8.5,"grid":false,"tickSize":2,"labelPadding":0,"labelFlush":true,"labelOverlap":false,"domain":false,"title":null}},
  "y2":{"datum":0}}},
{"data":{"name":"one"},"mark":{"type":"rule","color":"#a0a0a0","strokeDash":[3,3]},"encoding":{"y":{"datum":0}}},
{"data":{"name":"sg"},"mark":{"type":"line","color":"#e01010","strokeWidth":2,"interpolate":"monotone"},
 "encoding":{"x":{"field":"i","type":"quantitative"},"y":{"field":"v","type":"quantitative"}}},
{"data":{"name":"one"},"mark":{"type":"text","fontSize":9.5,"font":"Liberation Sans","align":"left","baseline":"middle","color":"#000"},
 "encoding":{"x":{"datum":0.95},"y":{"datum":0.0015},"text":{"value":"MACD(5,35,5) 0.00078 0.00046"}}}
]
},
{
"width":597,"height":38,
"layer":[
{"data":{"name":"st"},"transform":[{"filter":{"field":"s","oneOf":["D"]}}],"mark":{"type":"line","color":"#e01010","strokeWidth":1,"strokeDash":[2,2],"interpolate":"monotone","clip":true},
 "encoding":{"x":{"field":"i","type":"quantitative","scale":{"domain":[-0.3,186.25],"nice":false,"zero":false},"axis":{"values":[10,20,30,40,50,60,70,80,90,100,110,120,130,140,150,160,170,180],"grid":true,"labels":false,"ticks":false,"domain":false,"title":null}},
  "y":{"field":"v","type":"quantitative","scale":{"domain":[0,100],"nice":false,"zero":false},"axis":{"orient":"right","values":[100,80],"labelFontSize":9,"grid":true,"tickSize":2,"labelPadding":1,"labelFlush":true,"labelOverlap":false,"domain":false,"title":null}}}},
{"data":{"name":"st"},"transform":[{"filter":{"field":"s","oneOf":["K"]}}],"mark":{"type":"line","color":"#3ca08c","strokeWidth":2,"interpolate":"monotone","clip":true},
 "encoding":{"x":{"field":"i","type":"quantitative"},"y":{"field":"v","type":"quantitative"}}},
{"data":{"name":"one"},"mark":{"type":"text","fontSize":9.5,"font":"Liberation Sans","align":"left","baseline":"middle","color":"#000"},
 "encoding":{"x":{"datum":0.95},"y":{"datum":74},"text":{"value":"Stoch(10,3,3) 77.6119 65.0427"}}}
]
}
]
}
